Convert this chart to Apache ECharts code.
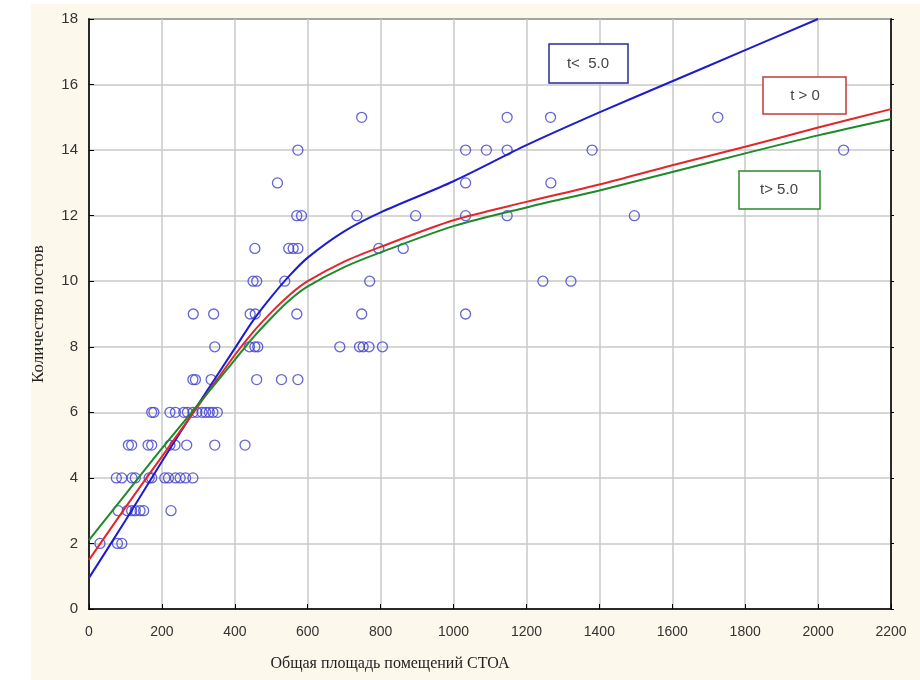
<!DOCTYPE html>
<html>
<head>
<meta charset="utf-8">
<script src="https://cdn.jsdelivr.net/npm/echarts@6/dist/echarts.min.js"></script>
<style>
	html,body{margin:0;padding:0;background:#fff;}
	#chart{width:920px;height:680px;}
</style>
</head>
<body>
<div id="chart"></div>
<script>
// точки: площадь СТОА и количество постов
var pointArea=[
	30,78,90,
	80,105,117,127,140,150,225,
	75,90,118,127,165,172,208,218,237,250,265,285,
	108,117,162,172,222,236,268,345,428,
	172,178,222,237,260,270,285,296,310,320,330,340,352,
	285,292,335,460,528,573,
	345,440,455,463,688,742,752,768,805,
	286,342,442,456,570,748,1033,
	450,460,537,770,1245,1322,
	455,548,560,573,795,862,
	570,583,735,896,1033,1147,1496,
	517,1033,1267,
	573,1033,1090,1147,1380,2070,
	748,1147,1266,1725
];
var pointPosts=[
	2,2,2,
	3,3,3,3,3,3,3,
	4,4,4,4,4,4,4,4,4,4,4,4,
	5,5,5,5,5,5,5,5,5,
	6,6,6,6,6,6,6,6,6,6,6,6,6,
	7,7,7,7,7,7,
	8,8,8,8,8,8,8,8,8,
	9,9,9,9,9,9,9,
	10,10,10,10,10,10,
	11,11,11,11,11,11,
	12,12,12,12,12,12,12,
	13,13,13,
	14,14,14,14,14,14,
	15,15,15,15
];
// кривые
var curveX=[0,100,200,300,400,450,500,550,600,700,800,1000,1200,1400,1600,1800,2000,2200];
var curveBlue=[0.95,2.7,4.5,6.25,7.95,8.8,9.52,10.17,10.72,11.52,12.1,13.05,14.15,15.15,16.1,17.05,18.0,null];
var curveRed=[1.5,3.1,4.65,6.2,7.75,8.45,9.05,9.58,10.0,10.6,11.05,11.86,12.42,12.95,13.54,14.1,14.69,15.25];
var curveGreen=[2.1,3.5,4.9,6.25,7.6,8.28,8.88,9.42,9.84,10.43,10.88,11.68,12.25,12.77,13.33,13.9,14.45,14.95];

function pairs(xs,ys){
	var res=[];
	for(var i=0;i<xs.length;i++){
		if(ys[i]!==null){
			res.push([xs[i],ys[i]]);
		}
	}
	return res;
}

var myChart=echarts.init(document.getElementById("chart"));
var labelFont='15px "Liberation Sans", Arial, sans-serif';
var option={
	backgroundColor:'#fcf8ec',
	animation:false,
	grid:{
		left:89,
		right:29,
		top:19,
		bottom:71,
		show:true,
		backgroundColor:'#ffffff',
		borderColor:'#000000',
		borderWidth:1.5
	},
	xAxis:[
		{
			type:'value',
			min:0,
			max:2200,
			interval:200,
			name:'Общая площадь помещений СТОА',
			nameLocation:'middle',
			nameGap:47,
			nameTextStyle:{
				fontFamily:'"Liberation Serif", "DejaVu Serif", serif',
				fontSize:16,
				color:'#222',
				padding:[0,200,0,0]
			},
			axisLine:{lineStyle:{color:'#000',width:1.5}},
			axisTick:{inside:true,length:5,lineStyle:{color:'#000'}},
			axisLabel:{
				margin:16,
				fontSize:14,
				color:'#333',
				fontFamily:'"Liberation Sans", Arial, sans-serif',
				formatter:function(v){
					return String(v);
				}
			},
			splitLine:{show:true,lineStyle:{color:'#c8c8c8',width:1.5}}
		}
	],
	yAxis:[
		{
			type:'value',
			min:0,
			max:18,
			interval:2,
			name:'Количество постов',
			nameLocation:'middle',
			nameGap:42,
			nameRotate:90,
			nameTextStyle:{
				fontFamily:'"Liberation Serif", "DejaVu Serif", serif',
				fontSize:17,
				color:'#222'
			},
			axisLine:{show:true,lineStyle:{color:'#000',width:1.5}},
			axisTick:{show:true,inside:true,length:5,lineStyle:{color:'#000'}},
			axisLabel:{margin:11,fontSize:15,color:'#333',fontFamily:'"Liberation Sans", Arial, sans-serif'},
			splitLine:{show:true,lineStyle:{color:'#c8c8c8',width:1.5}}
		},
		{
			type:'value',
			min:0,
			max:18,
			interval:2,
			position:'right',
			axisLine:{show:true,lineStyle:{color:'#000',width:1.5}},
			axisTick:{show:true,inside:false,length:3,lineStyle:{color:'#000'}},
			axisLabel:{show:false},
			splitLine:{show:false}
		}
	],
	series:[
		{
			name:'points',
			type:'scatter',
			data:pairs(pointArea,pointPosts),
			symbol:'circle',
			symbolSize:10,
			itemStyle:{color:'rgba(0,0,0,0)',borderColor:'#3d3dcc',borderWidth:1.3},
			z:3
		},
		{
			name:'t< 5.0',
			type:'line',
			data:pairs(curveX,curveBlue),
			smooth:0.3,
			showSymbol:false,
			lineStyle:{color:'#1c1cd0',width:2},
			z:4
		},
		{
			name:'t > 0',
			type:'line',
			data:pairs(curveX,curveRed),
			smooth:0.3,
			showSymbol:false,
			lineStyle:{color:'#e3262a',width:2},
			z:4
		},
		{
			name:'t> 5.0',
			type:'line',
			data:pairs(curveX,curveGreen),
			smooth:0.3,
			showSymbol:false,
			lineStyle:{color:'#1f8a2a',width:2},
			z:4
		}
	],
	graphic:[
		{type:'rect',z:-1,shape:{x:0,y:0,width:31,height:680},style:{fill:'#ffffff'}},
		{type:'rect',z:-1,shape:{x:0,y:0,width:920,height:4},style:{fill:'#ffffff'}},
		{type:'rect',z:10,shape:{x:549,y:44,width:79,height:39},style:{fill:'#ffffff',stroke:'#2a2a9c',lineWidth:1.5}},
		{type:'text',z:11,style:{text:'t<  5.0',x:588,y:64,align:'center',verticalAlign:'middle',font:labelFont,fill:'#444'}},
		{type:'rect',z:10,shape:{x:763,y:77,width:83,height:37},style:{fill:'#ffffff',stroke:'#c43a3a',lineWidth:1.5}},
		{type:'text',z:11,style:{text:'t > 0',x:805,y:96,align:'center',verticalAlign:'middle',font:labelFont,fill:'#444'}},
		{type:'rect',z:10,shape:{x:739,y:171,width:81,height:38},style:{fill:'#ffffff',stroke:'#2b8a2b',lineWidth:1.5}},
		{type:'text',z:11,style:{text:'t> 5.0',x:779,y:190,align:'center',verticalAlign:'middle',font:labelFont,fill:'#444'}}
	]
};
myChart.setOption(option);
</script>
</body>
</html>
